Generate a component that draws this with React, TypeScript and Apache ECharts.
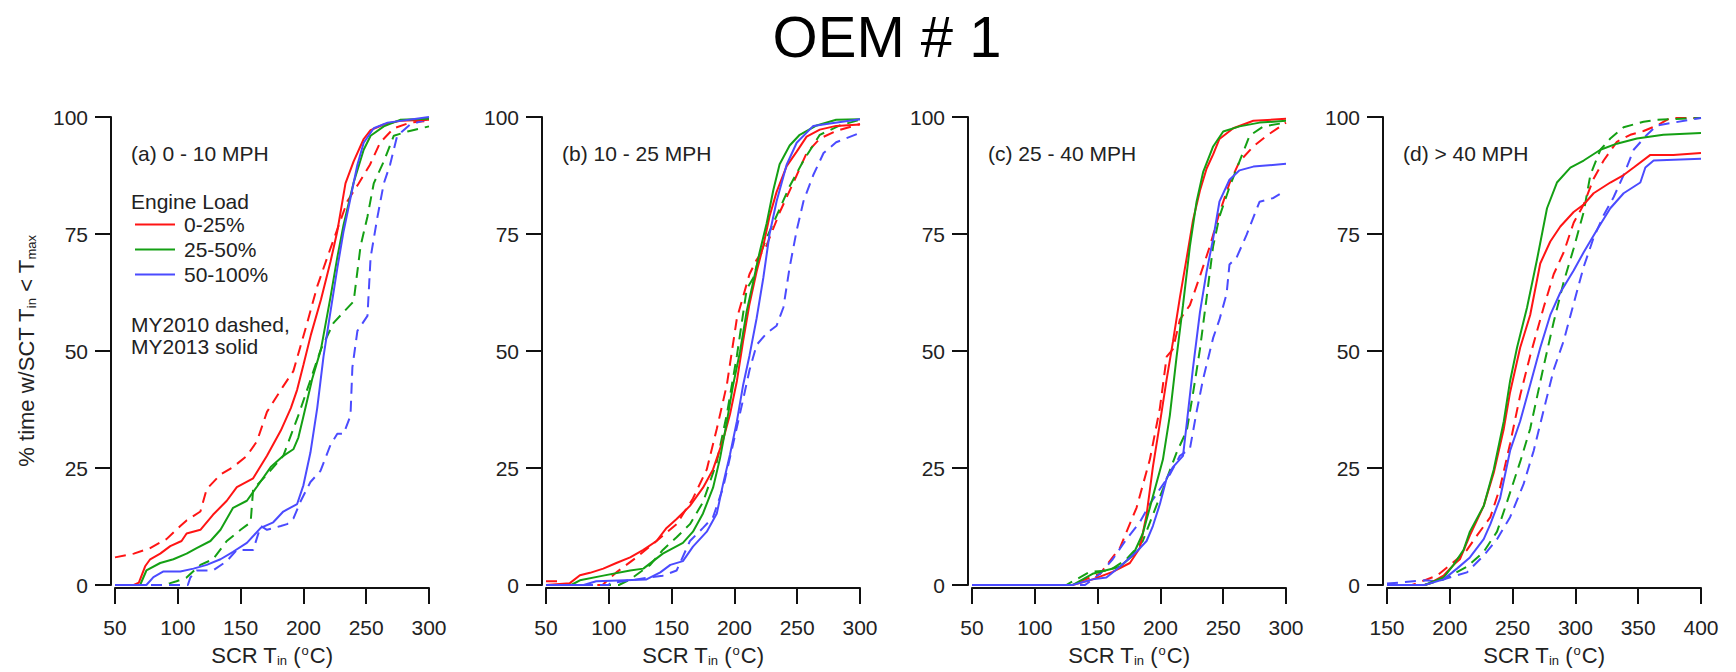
import React, { useEffect, useRef } from "react";
import * as echarts from "echarts";

// ---- Data: [SCR Tin (°C), % time] ----
const A_RED_2013 = [[50,0],[65,0],[69,0.5],[74,4],[78,5.5],[86,6.7],[94,8.3],[103,9.4],[107,11],[118,11.8],[128,15],[139,18],[147,20.9],[160,22.8],[171,27.6],[182,33],[190,37.8],[195,41.7],[200,47],[206,53.5],[214,61],[221.5,69],[227,75.6],[233.5,85.8],[240,90.5],[248,95.3],[253.5,97.2],[264,98.4],[277,99.2],[300,99.4]];
const A_RED_2010 = [[50,5.9],[65,6.7],[78,7.9],[91,9.8],[102,12.6],[107,13.8],[118,15.7],[123,20.5],[134,23.6],[144,25.2],[155,27.6],[163,30.7],[171,37],[184,42.5],[192,45.7],[203,56],[211,63.8],[219,70],[227,76],[235,82],[244,85.8],[253,89.8],[261,94.5],[272,97.6],[285,98.8],[300,99.2]];
const A_GREEN_2013 = [[50,0],[70,0],[75,3.1],[86,4.7],[96.5,5.5],[107,6.7],[115,7.9],[126,9.4],[134,11.8],[144,16.5],[155,18],[163,21],[174,25.2],[184,27.6],[192,29],[196,31.5],[200,36],[207,44],[214,50.4],[221.5,61.4],[227,70],[232,77],[240,86],[248,93],[253.5,96],[264,98],[277,99.4],[300,99.6]];
const A_GREEN_2010 = [[50,0],[88,0],[94,0.4],[99,0.8],[107,1.6],[118,4.3],[128,5.5],[139,9.4],[150,11.8],[158,13.4],[160,20.5],[171,23.6],[184,27.6],[197,37],[208,45.7],[214,50.4],[224,56],[232,58.3],[240,60.6],[245.5,72.4],[251,78.7],[256,85.8],[264,90.5],[272,96],[283,96.9],[300,98]];
const A_BLUE_2013 = [[50,0],[75,0],[80.6,1.7],[88.6,2.9],[102,2.9],[112.5,3.5],[123,4.3],[134,5.5],[144,7.1],[155,9],[166,12.2],[176,13.4],[184,15.7],[195,17.3],[200,21.3],[205.6,28.3],[211,37.8],[216,48.8],[221.5,58.3],[227,67.7],[232,75.6],[237.5,82.7],[243,89.8],[248,94.5],[256,97.6],[267,98.8],[300,100]];
const A_BLUE_2010 = [[50,0],[108,0],[110,1.6],[115,3.1],[128,3.1],[139,5.1],[147,7.5],[160,7.5],[166,12.6],[171,11.8],[182,12.6],[187,13],[192,14.2],[198,18],[205.6,22],[213.6,24.4],[221.5,29.9],[227,32.3],[232,32.3],[237.5,36.2],[239,46.5],[243,54.3],[251,57.5],[253.5,70],[259,78.7],[264,85.8],[269,89.8],[274.7,96],[285,98.4],[300,99.6]];

const B_RED_2013 = [[50,0],[69,0.4],[77,2.1],[85,2.6],[95.6,3.5],[106,4.7],[117,5.9],[127.5,7.5],[138,9.4],[146,12.2],[154,14.1],[164.6,16.9],[175,20.8],[183,24.7],[191,31],[196.5,36.5],[202,43.6],[207,52.2],[212,60],[217.7,67],[223,72.5],[228,78.8],[233.6,84],[241.6,89.5],[249.6,92.6],[257.5,95.8],[268,97.3],[281,98.1],[300,98.4]];
const B_RED_2010 = [[50,0.8],[60,0.8],[61,0],[95,0],[106,2.7],[122,5.9],[138,9.4],[154,13],[167,18.5],[178,24.7],[186,33.4],[194,42.8],[202,57],[207,61.7],[212,66.4],[217.7,69.5],[225.7,72.6],[236,79.6],[247,86],[257.5,92.3],[268,95.4],[281,97],[300,98.5]];
const B_GREEN_2013 = [[50,0],[70,0],[77,1],[95.6,2],[117,3.1],[127.5,3.5],[143,6.7],[159,9],[167,11.4],[175,15.3],[183,20.8],[188.5,27],[194,34.9],[199,42.8],[204.5,49.9],[209.8,58.5],[215,64.8],[220,71],[225.7,77.3],[231,84.4],[236,89.9],[244,93.9],[252,96.2],[265.5,98.2],[281,99.4],[300,99.5]];
const B_GREEN_2010 = [[50,0],[108,0],[117,1.2],[133,4.3],[143,7.5],[154,10.2],[164.6,13],[175,17.7],[186,26.3],[194,36.5],[202,49],[209.8,63.2],[215,65.6],[220,70.3],[225.7,74.2],[233.6,78.9],[244,85.2],[255,90.7],[268,96.2],[284,98.2],[300,99.4]];
const B_BLUE_2013 = [[50,0],[80,0],[90,0.8],[130,1.2],[141,2.7],[149,4.3],[159,5.1],[167,8.2],[178,11.4],[186,15.3],[191,21.6],[196.5,27.9],[202,35],[207,42.8],[212,49],[217.7,57],[223,65.6],[228,75],[233.6,82],[241.6,89.8],[249.6,94.5],[262.8,98.1],[276,98.6],[300,99.5]];
const B_BLUE_2010 = [[50,0],[100,0],[101,0.4],[143,2],[154,3.1],[164.6,9.4],[175,12.2],[183,14.5],[191,20.8],[199,30.2],[207,39.7],[212,45.9],[217.7,51.3],[225.7,53.8],[233.6,55.4],[239,59.3],[244,67.9],[249.6,75.8],[255,82],[262.8,87.6],[271,92.3],[281,94.6],[300,96.6]];

const C_RED_2013 = [[50,0],[130,0],[146,1.2],[162,2.8],[175.7,4.7],[183.6,7.9],[189,15],[194,25.2],[199.6,34.6],[205,44],[210,52],[215.5,61.4],[221,70],[226,78],[231.5,84.3],[236.8,89],[242,92],[247,95.3],[258,97.6],[274,99.2],[300,99.6]];
const C_RED_2010 = [[50,0],[130,0],[136,0.8],[152,2.4],[167.7,7.9],[181,16.5],[191.6,26.8],[199.6,37.8],[205,48.8],[210,50.4],[215.5,56.7],[223.5,59.8],[231.5,66],[239.4,72.4],[247,79.5],[255,85.8],[263,90.5],[274,93.7],[284.6,96],[300,98.8]];
const C_GREEN_2013 = [[50,0],[130,0],[146,2.4],[167.7,3.9],[178,6.3],[186,11],[194,18.9],[202,26.8],[207.5,36.2],[212.9,48.8],[218,59.8],[223.5,72.4],[228.8,81.9],[234,88.2],[242,93.7],[250,96.9],[263,98],[279,98.8],[300,99.2]];
const C_GREEN_2010 = [[50,0],[125,0],[133,1.2],[143.8,2.8],[159.7,3.1],[173,5.5],[186,9.4],[194,15],[202,20.5],[212.9,28.3],[221,33],[226,41],[231.5,50.4],[236.8,61.4],[242,72.4],[247,78.7],[255,85],[263,90.5],[271,96],[282,98],[300,98.8]];
const C_BLUE_2013 = [[50,0],[130,0],[146,1.2],[157,1.6],[167.7,3.9],[181,7.1],[189,9.4],[194,12.6],[199.6,17.3],[205,22.8],[210,25.2],[218,27.6],[221,34.6],[226,46.5],[231.5,58.3],[236.8,67],[242,74],[247,81.9],[255,86.6],[263,88.6],[274,89.4],[300,90]];
const C_BLUE_2010 = [[50,0],[140,0],[152,2.4],[162,5.5],[173,9.8],[183.6,13.4],[191.6,17.3],[199.6,20.5],[207.5,23.6],[215.5,27.6],[223.5,29.1],[228.8,37],[234,44],[242,52.8],[247,56.7],[252.7,62.2],[255,68.5],[260.7,70],[268.6,74.8],[276.6,80.3],[279,81.9],[290,82.7],[295,83.5]];

const D_RED_2013 = [[150,0],[180,0],[184.5,0.4],[195,2],[203,4.3],[208,5.5],[216,10.6],[227,16.9],[235,24],[243,33.4],[248,41.2],[256,50.7],[264,57.7],[272,68.7],[280,73.4],[288,76.6],[298.6,79.7],[306.6,81.3],[314.5,83.7],[327.8,86],[338.4,87.6],[346.4,89.2],[359.7,91.9],[378,91.9],[400,92.3]];
const D_RED_2010 = [[150,0],[170,0],[189.8,2],[205.7,5.5],[213.7,7.5],[221.7,10.6],[232.3,14.5],[240,20.8],[248,30.2],[256,40.5],[264,49],[274.7,59.3],[282.7,66.4],[290.7,71.1],[298.6,77.4],[306.6,81.3],[314.5,86.8],[322.5,90.7],[333,94.7],[343.7,96.2],[354.3,97],[365,98.2],[375.6,99.8],[400,99.8]];
const D_GREEN_2013 = [[150,0],[180,0],[195,1.6],[203,4.3],[211,7.5],[216,11.4],[227,16.9],[235,24.7],[243,35],[248,43.6],[253.5,50.7],[261.5,59.3],[269.4,69.5],[277.4,80.5],[285.3,86],[296,89.2],[306.6,90.7],[319.9,93],[333,94.3],[349,95.4],[370,96.2],[400,96.6]];
const D_GREEN_2010 = [[150,0],[180,0],[195,1.2],[213.7,3.9],[227,7.1],[237.6,11.4],[245.5,17.7],[256,26.3],[264,33.4],[274.7,46.7],[282.7,56.2],[290.7,64.8],[298.6,71.9],[306.6,79.7],[311.9,87.6],[319.9,93],[327.8,95.4],[338.4,97.8],[354.3,99],[365,99.4],[400,99.8]];
const D_BLUE_2013 = [[150,0],[180,0],[195,1.2],[205.7,3.5],[216,5.9],[227,9.8],[232.3,13],[240,18.5],[248,28.7],[256,35],[264,42.8],[272,50.7],[280,57.7],[288,62.5],[298.6,67.2],[306.6,71.1],[317,75.8],[327.8,80.5],[338.4,83.7],[351.7,86],[355.7,89.2],[362.3,90.7],[400,91.1]];
const D_BLUE_2010 = [[150,0.3],[180,1],[189.8,0.8],[213.7,2.7],[227,6.3],[237.6,9.8],[248,14.5],[258.8,21.6],[266.8,28.7],[274.7,37.3],[282.7,46],[290.7,52.2],[298.6,60.1],[306.6,68],[314.5,74.2],[322.5,79],[330.5,82.9],[338.4,87.6],[346.4,93],[357,96.2],[365,98.2],[400,99.8]];

const PANEL_LABELS = ["(a) 0 - 10 MPH", "(b) 10 - 25 MPH", "(c) 25 - 40 MPH", "(d) > 40 MPH"];
const X_RANGES = [[50, 300], [50, 300], [50, 300], [150, 400]];
const Y_TICKS = [0, 25, 50, 75, 100];
const LOAD_NAMES = ["0-25%", "25-50%", "50-100%"];
const PANEL_DATA = [
  { solid: [A_RED_2013, A_GREEN_2013, A_BLUE_2013], dashed: [A_RED_2010, A_GREEN_2010, A_BLUE_2010] },
  { solid: [B_RED_2013, B_GREEN_2013, B_BLUE_2013], dashed: [B_RED_2010, B_GREEN_2010, B_BLUE_2010] },
  { solid: [C_RED_2013, C_GREEN_2013, C_BLUE_2013], dashed: [C_RED_2010, C_GREEN_2010, C_BLUE_2010] },
  { solid: [D_RED_2013, D_GREEN_2013, D_BLUE_2013], dashed: [D_RED_2010, D_GREEN_2010, D_BLUE_2010] },
];

const COLORS = ["#ff1414", "#14a014", "#4b4bff"];
const FONT = "'Liberation Sans', Arial, Helvetica, sans-serif";
const TXT = "#222";
const GRID_LEFTS = [115, 546, 972, 1387];
const GRID_TOP = 117;
const GRID_W = 314;
const GRID_H = 471;

export default function App() {
  const ref = useRef<HTMLDivElement>(null);
  useEffect(() => {
    if (!ref.current) return;
    const chart = echarts.init(ref.current, null, { renderer: "svg" });

    const grid = GRID_LEFTS.map((l) => ({ left: l, top: GRID_TOP, width: GRID_W, height: GRID_H }));
    const axisLine = { show: true, onZero: false, lineStyle: { color: "#111", width: 2 } };
    const labelStyle = { color: TXT, fontSize: 21, fontFamily: FONT };
    const subRich = {
      sub: { fontSize: 13, fontFamily: FONT, color: TXT, verticalAlign: "bottom", padding: [10, 0, 0, 0] },
      sup: { fontSize: 13, fontFamily: FONT, color: TXT, verticalAlign: "top", padding: [0, 1, 10, 1] },
    };
    const xAxis = X_RANGES.map((r, i) => ({
      type: "value",
      gridIndex: i,
      min: r[0],
      max: r[1],
      interval: 50,
      offset: 3,
      axisLine,
      splitLine: { show: false },
      axisTick: { show: true, inside: false, length: 16, lineStyle: { color: "#111", width: 2 } },
      axisLabel: { ...labelStyle, margin: 29 },
      name: "SCR T{sub|in} ({sup|o}C)",
      nameLocation: "middle",
      nameGap: 56,
      nameTextStyle: { color: TXT, fontSize: 22, fontFamily: FONT, rich: subRich },
    }));
    const yAxis = X_RANGES.map((_, i) => ({
      type: "value",
      gridIndex: i,
      min: Y_TICKS[0],
      max: Y_TICKS[Y_TICKS.length - 1],
      interval: 25,
      offset: 4,
      axisLine,
      splitLine: { show: false },
      axisTick: { show: true, inside: false, length: 16, lineStyle: { color: "#111", width: 2 } },
      axisLabel: { ...labelStyle, margin: 23 },
      ...(i === 0
        ? {
            name: "% time w/SCT T{sub|in} < T{sub|max}",
            nameLocation: "middle",
            nameGap: 73,
            nameTextStyle: { color: TXT, fontSize: 22, fontFamily: FONT, rich: subRich },
          }
        : {}),
    }));

    const series: any[] = [];
    PANEL_DATA.forEach((p, i) => {
      p.dashed.forEach((d, k) => {
        series.push({
          type: "line",
          name: LOAD_NAMES[k] + " MY2010",
          xAxisIndex: i,
          yAxisIndex: i,
          data: d,
          showSymbol: false,
          symbol: "none",
          color: COLORS[k],
          lineStyle: { color: COLORS[k], width: 2, type: [11, 7] },
          silent: true,
        });
      });
      p.solid.forEach((d, k) => {
        series.push({
          type: "line",
          name: LOAD_NAMES[k],
          xAxisIndex: i,
          yAxisIndex: i,
          data: d,
          showSymbol: false,
          symbol: "none",
          color: COLORS[k],
          itemStyle: { color: COLORS[k] },
          lineStyle: { color: COLORS[k], width: 2 },
          silent: true,
        });
      });
    });

    const textStyle = (text: string, size = 21) => ({
      text,
      fontSize: size,
      fontFamily: FONT,
      fill: TXT,
      textAlign: "left",
      textVerticalAlign: "middle",
    });
    const graphic: any[] = [
      {
        type: "text",
        x: 887,
        y: 36,
        style: { text: "OEM # 1", fontSize: 58, fontFamily: FONT, fill: "#000", textAlign: "center", textVerticalAlign: "middle" },
      },
      ...PANEL_LABELS.map((t, i) => ({
        type: "text",
        x: GRID_LEFTS[i] + 16,
        y: 153,
        style: textStyle(t),
      })),
      { type: "text", x: 131, y: 201, style: textStyle("Engine Load") },
      { type: "text", x: 131, y: 324, style: textStyle("MY2010 dashed,") },
      { type: "text", x: 131, y: 346, style: textStyle("MY2013 solid") },
    ];

    chart.setOption({
      animation: false,
      backgroundColor: "#fff",
      grid,
      xAxis,
      yAxis,
      legend: {
        data: LOAD_NAMES,
        orient: "vertical",
        left: 135,
        top: 214,
        padding: 0,
        icon: "rect",
        itemWidth: 40,
        itemHeight: 2,
        itemGap: 4,
        selectedMode: false,
        textStyle: { color: TXT, fontSize: 21, fontFamily: FONT, padding: [0, 0, 0, 4] },
      },
      series,
      graphic,
    });
    return () => chart.dispose();
  }, []);

  return <div ref={ref} style={{ position: "fixed", left: 0, top: 0, width: 1736, height: 672, background: "#fff" }} />;
}
